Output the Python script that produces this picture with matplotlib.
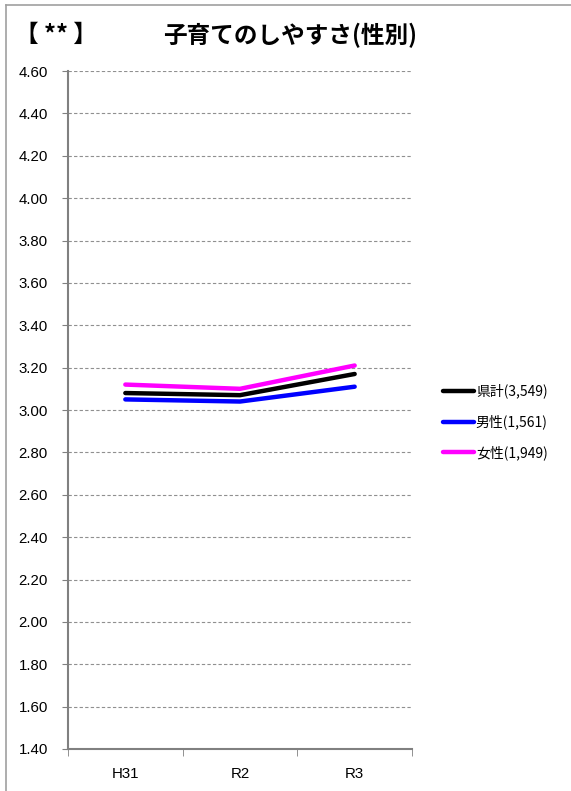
import matplotlib.pyplot as plt
from matplotlib.lines import Line2D
import numpy as np

plt.rcParams['font.family'] = ['Noto Sans CJK JP', 'DejaVu Sans']

years = ['H31', 'R2', 'R3']
total = [3.08, 3.07, 3.17]
male = [3.05, 3.04, 3.11]
female = [3.12, 3.10, 3.21]
labels = ['県計(3,549)', '男性(1,561)', '女性(1,949)']
colors = ['#000000', '#0000ff', '#ff00ff']
yticks = np.arange(1.4, 4.61, 0.2)

fig = plt.figure(figsize=(5.71, 7.91), dpi=100)
ax = fig.add_axes([68 / 571, 1 - 749 / 791, (412 - 68) / 571, (749 - 71) / 791])

x = np.arange(len(years))
handles = []
for vals, c, lab in zip([total, male, female], colors, labels):
    h, = ax.plot(x, vals, color=c, lw=3.2, solid_capstyle='round', label=lab)
    handles.append(h)

ax.set_xlim(-0.5, 2.5)
ax.set_ylim(1.4, 4.6)
ax.set_yticks(yticks)
ax.set_yticklabels([f'{v:.2f}' for v in yticks], fontsize=10.8, family='Liberation Sans')
ax.set_xticks(x)
ax.set_xticklabels(years, fontsize=10.8, family='Liberation Sans')
ax.set_xticks([-0.5, 0.5, 1.5, 2.5], minor=True)
ax.tick_params(axis='x', which='major', length=0, pad=13)
ax.tick_params(axis='x', which='minor', length=5, direction='out', color='#808080')
ax.tick_params(axis='y', length=4.5, direction='out', color='#808080', pad=10)
ax.grid(axis='y', color='#909090', ls=(0, (3, 2)), lw=0.8)
ax.set_axisbelow(True)
for s in ['top', 'right']:
    ax.spines[s].set_visible(False)
for s in ['left', 'bottom']:
    ax.spines[s].set_color('#808080')
    ax.spines[s].set_linewidth(1.5)

fig.legend(handles=handles, loc='center left', bbox_to_anchor=(430 / 571, 1 - 422 / 791),
           frameon=False, fontsize=10, handlelength=2.3, handletextpad=0.1,
           labelspacing=1.15)

fig.text(15 / 571, 1 - 35 / 791, '【 ** 】', fontsize=17, fontweight='bold', va='center')
fig.text(290 / 571, 1 - 35 / 791, '子育てのしやすさ(性別)', fontsize=17, fontweight='bold',
         va='center', ha='center')

# outer frame (left and top edges)
fig.lines.append(Line2D([6 / 571, 6 / 571], [0, 1 - 5 / 791], transform=fig.transFigure,
                        color='#a0a0a0', lw=1.2))
fig.lines.append(Line2D([6 / 571, 1], [1 - 5 / 791, 1 - 5 / 791], transform=fig.transFigure,
                        color='#a0a0a0', lw=1.2))

fig.savefig('out.png', dpi=100)
